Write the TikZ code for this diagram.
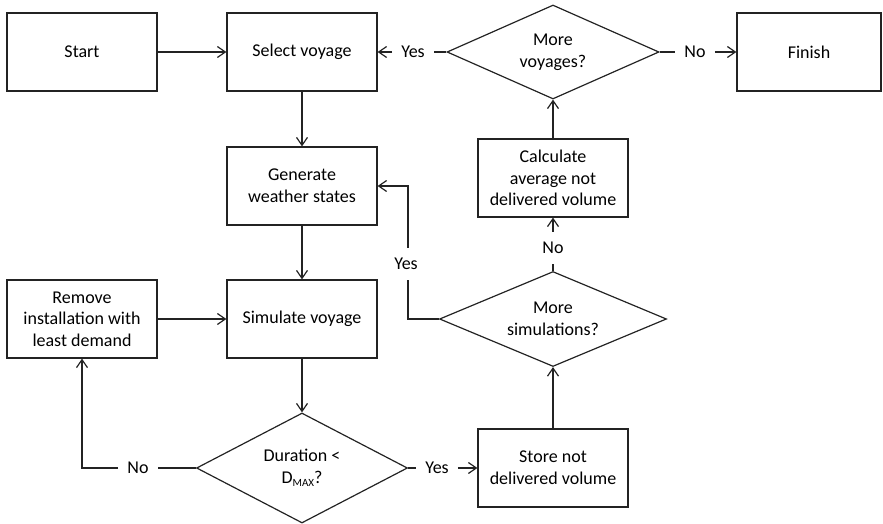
\documentclass[tikz,border=0pt]{standalone}
\usepackage{fontspec}
\setmainfont{Carlito}
\usetikzlibrary{arrows.meta,shapes.geometric}
\definecolor{ln}{RGB}{35,35,35}
\begin{document}
\begin{tikzpicture}[x=1pt,y=-1pt,
  font=\fontsize{18}{21.7}\selectfont,
  box/.style={draw=ln,line width=1.2pt,minimum width=150pt,minimum height=78pt,align=center,inner sep=2pt},
  dia/.style={draw=ln,line width=1.2pt,shape=diamond,inner sep=0pt,align=center},
  lab/.style={inner xsep=9pt,inner ysep=10pt},
  con/.style={draw=ln,line width=1.2pt},
  arr/.style={con,-{Straight Barb[length=8pt,width=11pt]}}]
\useasboundingbox (0,0) rectangle (883,524);
% boxes
\node[box] (start) at (82,52) {Start};
\node[box] (sel) at (302,52) {Select voyage};
\node[dia,aspect=2.26,minimum width=212pt,minimum height=94pt] (mv) at (553,52) {More\\voyages?};
\node[box,minimum width=144pt] (fin) at (809,52) {Finish};
\node[box] (gen) at (302,186) {Generate\\weather states};
\node[box] (calc) at (553,178) {Calculate\\average not\\delivered volume};
\node[dia,aspect=2.4,minimum width=227pt,minimum height=95pt] (ms) at (553,319) {More\\simulations?};
\node[box] (rem) at (82,319) {Remove\\installation with\\least demand};
\node[box] (sim) at (302,319) {Simulate voyage};
\node[dia,aspect=1.9,minimum width=211pt,minimum height=110pt] (dur) at (302,468) {Duration <\\D\raisebox{-0.35ex}{\fontsize{11}{11}\selectfont MAX}?};
\node[box] (store) at (553,468) {Store not\\delivered volume};
% labels
\node[lab] (y1) at (413,52) {Yes};
\node[lab] (n1) at (695,52) {No};
\node[lab] (y3) at (406,264) {Yes};
\node[lab] (n3) at (553,248) {No};
\node[lab] (n2) at (138,468) {No};
\node[lab] (y2) at (437,468) {Yes};
\coordinate (yx) at (408,264);
% connectors
\draw[arr] (start.east) -- (sel.west);
\draw[con] (mv.west) -- (y1.east);
\draw[arr] (y1.west) -- (sel.east);
\draw[con] (mv.east) -- (n1.west);
\draw[arr] (n1.east) -- (fin.west);
\draw[arr] (sel.south) -- (gen.north);
\draw[arr] (gen.south) -- (sim.north);
\draw[arr] (sim.south) -- (dur.north);
\draw[arr] (rem.east) -- (sim.west);
\draw[con] (dur.west) -- (n2.east);
\draw[arr] (n2.west) -| (rem.south);
\draw[con] (dur.east) -- (y2.west);
\draw[arr] (y2.east) -- (store.west);
\draw[arr] (store.north) -- (ms.south);
\draw[con] (ms.north) -- (n3.south);
\draw[arr] (n3.north) -- (calc.south);
\draw[arr] (calc.north) -- (mv.south);
\draw[con] (ms.west) -| (yx |- y3.south);
\draw[arr] (yx |- y3.north) |- (gen.east);
\end{tikzpicture}
\end{document}
